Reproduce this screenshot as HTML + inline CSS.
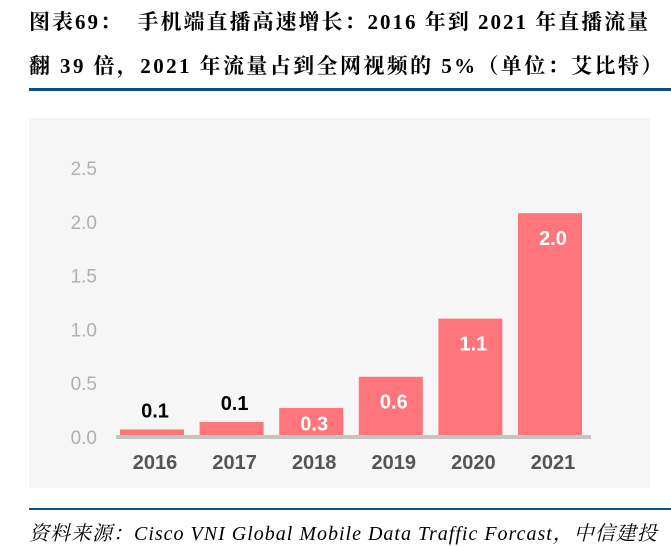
<!DOCTYPE html>
<html><head><meta charset="utf-8"><style>
body{margin:0;width:671px;height:546px;background:#fff;position:relative;overflow:hidden;font-family:"Liberation Serif","Noto Serif CJK SC",serif}
.t{position:absolute;left:29px;font-weight:bold;font-size:21px;color:#000;white-space:nowrap;line-height:24px}
</style></head><body>
<div class="t" style="top:10px;letter-spacing:2px">图表69：&nbsp; 手机端直播高速增长：2016 年到 2021 年直播流量</div>
<div class="t" style="top:54px;letter-spacing:2.4px">翻 39 倍，2021 年流量占到全网视频的 5%（单位：艾比特）</div>
<div style="position:absolute;left:29px;top:88px;width:642px;height:3px;background:#0b4f86"></div>
<svg id="chart" style="position:absolute;left:0;top:0" width="671" height="546"></svg>
<div style="position:absolute;left:29px;top:508px;width:642px;height:2px;background:#0b4f86"></div>
<div style="position:absolute;left:29px;top:517px;font-size:20px;letter-spacing:1px;font-style:italic;white-space:nowrap;color:#000">资料来源：Cisco VNI Global Mobile Data Traffic Forcast，中信建投</div>
<script>
const categories=["2016","2017","2018","2019","2020","2021"];
const values=[0.07,0.14,0.27,0.56,1.1,2.08];
const valueLabels=["0.1","0.1","0.3","0.6","1.1","2.0"];
const yTicks=[0,0.5,1.0,1.5,2.0,2.5];
const NS="http://www.w3.org/2000/svg";
const svg=document.getElementById('chart');
function mk(t,a){const e=document.createElementNS(NS,t);for(const k in a)e.setAttribute(k,a[k]);svg.appendChild(e);return e;}
const y=v=>437-v*107.6;
const x=i=>152+i*79.6;
const bg=mk('rect',{x:29,y:118,width:621,height:370,fill:'#f6f6f6'});


yTicks.forEach(v=>{const t=mk('text',{x:97,y:y(v)+7,'text-anchor':'end','font-family':'Liberation Sans, sans-serif','font-size':19,fill:'#b0b0b0'});t.textContent=v.toFixed(1);

});
values.forEach((v,i)=>{
const r=mk('rect',{x:x(i)-32,y:y(v),width:64,height:437-y(v),fill:'#fe757c'});


const inside=v>0.2;
const ly=inside?Math.min(y(v)+32,y(v)+(437-y(v))/2+8):y(v)-12;
const l=mk('text',{x:x(i)+3,y:ly,'text-anchor':'middle','font-family':'Liberation Sans, sans-serif','font-weight':'bold','font-size':20,fill:inside?'#fff':'#000'});l.textContent=valueLabels[i];


const c=mk('text',{x:x(i)+3,y:469,'text-anchor':'middle','font-family':'Liberation Sans, sans-serif','font-weight':'bold','font-size':20,fill:'#555'});c.textContent=categories[i];


});
const ax=mk('rect',{x:116,y:435,width:475,height:4,fill:'#c4c4c4'});


</script>
</body></html>
